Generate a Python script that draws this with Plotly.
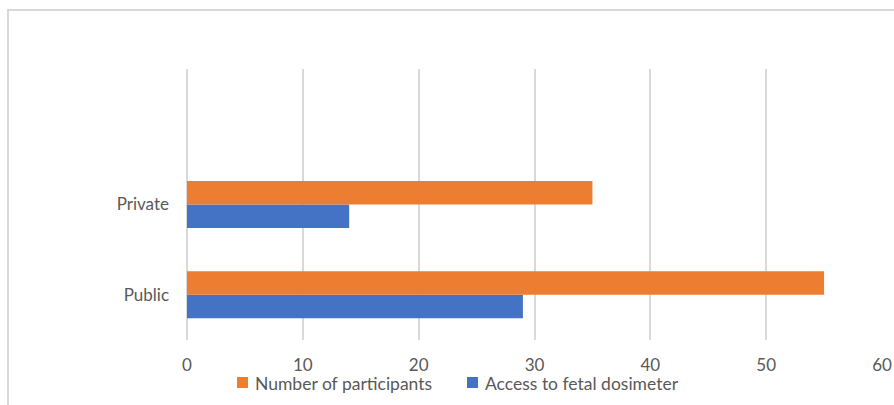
import plotly.graph_objects as go

categories = ["Public", "Private", " "]
participants = [55, 35, None]
access = [29, 14, None]
tick_vals = [0, 10, 20, 30, 40, 50, 60]

series_names = ["Number of participants", "Access to fetal dosimeter"]
series_colors = ["#ED7D31", "#4472C4"]

FONT = "Lato, Liberation Sans, sans-serif"
TXT = "#595959"

fig = go.Figure()
fig.add_trace(go.Bar(y=categories, x=access, orientation="h", name=series_names[1],
                     marker=dict(color=series_colors[1], line=dict(width=0))))
fig.add_trace(go.Bar(y=categories, x=participants, orientation="h", name=series_names[0],
                     marker=dict(color=series_colors[0], line=dict(width=0))))

L, R, T, B = 187, 12, 69, 65
W, H = 894, 405
pw, ph = W - L - R, H - T - B


def px(x):
    return (x - L) / pw


def py(y):
    return (H - B - y) / ph


# custom legend (decoration)
legend_items = [(237, 253), (467, 483)]
shapes = [dict(type="rect", xref="paper", yref="paper", x0=px(8), x1=1.05, y0=-0.4, y1=py(10),
               line=dict(color="#D9D9D9", width=2), fillcolor="rgba(0,0,0,0)", layer="below")]
annotations = []
for (sx, tx), name, col in zip(legend_items, series_names, series_colors):
    shapes.append(dict(type="rect", xref="paper", yref="paper", x0=px(sx), x1=px(sx + 11),
                       y0=py(388), y1=py(377), fillcolor=col, line=dict(width=0)))
    annotations.append(dict(xref="paper", yref="paper", x=px(tx), y=py(383), xanchor="left",
                            yanchor="middle", text=name, showarrow=False,
                            font=dict(family=FONT, size=17.5, color=TXT)))

fig.update_layout(
    width=W, height=H,
    margin=dict(l=L, r=R, t=T, b=B),
    paper_bgcolor="white", plot_bgcolor="white",
    barmode="group", bargap=0.48, bargroupgap=0,
    font=dict(family=FONT, size=17, color=TXT),
    xaxis=dict(range=[0, 60], tickvals=tick_vals, showgrid=True, gridcolor="#D9D9D9", gridwidth=2,
               zeroline=True, zerolinecolor="#D9D9D9", zerolinewidth=2, showline=False,
               ticks="", ticklabelstandoff=13, automargin=False,
               tickfont=dict(family=FONT, size=17, color=TXT)),
    yaxis=dict(range=[-0.5, 2.5], showgrid=False, zeroline=False, showline=False, ticks="",
               ticklabelstandoff=17, automargin=False,
               tickfont=dict(family=FONT, size=17, color=TXT)),
    showlegend=False,
    shapes=shapes,
    annotations=annotations,
)

fig.write_html("out.html")
